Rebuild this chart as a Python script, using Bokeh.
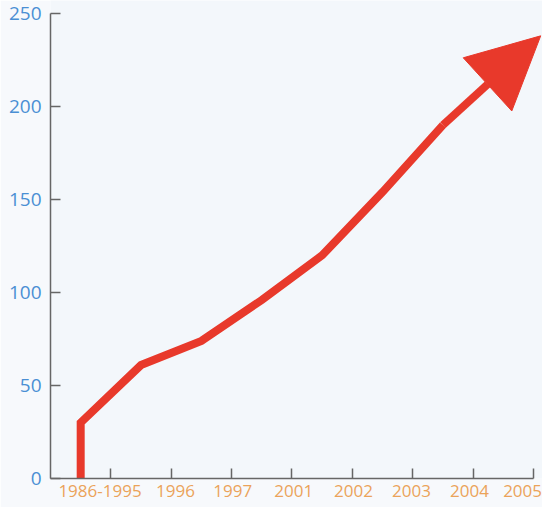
from bokeh.plotting import figure
from bokeh.models import Range1d, FixedTicker, Arrow, NormalHead
from bokeh.embed import file_html
from bokeh.resources import INLINE

# ---- data ----
categories = ["1986-1995", "1996", "1997", "2001", "2002", "2003", "2004", "2005"]
tick_positions = [1, 2, 3, 4, 5, 6, 7, 8]
label_positions = [0.82, 2.07, 3.02, 4.03, 5.02, 5.98, 6.94, 7.82]
line_x = [0.5, 0.5, 1.5, 2.5, 3.5, 4.5, 5.5, 6.5]
line_y = [0, 30, 61, 74, 96, 120, 154, 190]
arrow_tip_x = [8.12]
arrow_tip_y = [238]
y_ticks = [0, 50, 100, 150, 200, 250]

RED = "#e8392b"
ORANGE = "#eba35a"
BLUE = "#4a8fd4"
AXIS = "#666666"
FONT = "Open Sans"

p = figure(width=542, height=507, output_backend="svg", toolbar_location=None,
           x_range=Range1d(0, 8.15), y_range=Range1d(0, 257),
           min_border_left=50, min_border_right=0, min_border_top=0,
           min_border_bottom=29)

p.background_fill_color = "#f3f7fb"
p.border_fill_color = "#f7f9fc"
p.outline_line_color = None
p.grid.visible = False

# x axis: tick marks at category boundaries (minor), labels at label positions (major)
xa = p.xaxis[0]
xa.ticker = FixedTicker(ticks=label_positions, minor_ticks=tick_positions)
xa.major_label_overrides = {t: c for t, c in zip(label_positions, categories)}
xa.bounds = (0, 8)
xa.axis_line_color = AXIS
xa.axis_line_width = 1.5
xa.major_tick_line_color = None
xa.major_tick_in = 0
xa.major_tick_out = 0
xa.minor_tick_line_color = AXIS
xa.minor_tick_line_width = 1.5
xa.minor_tick_in = 10
xa.minor_tick_out = 0
xa.major_label_standoff = 6
xa.major_label_text_color = ORANGE
xa.major_label_text_font = FONT
xa.major_label_text_font_size = "17px"

# y axis
ya = p.yaxis[0]
ya.ticker = FixedTicker(ticks=y_ticks)
ya.bounds = (0, 250)
ya.axis_line_color = AXIS
ya.axis_line_width = 1.5
ya.major_tick_line_color = AXIS
ya.major_tick_line_width = 1.5
ya.major_tick_in = 10
ya.major_tick_out = 0
ya.minor_tick_line_color = None
ya.major_label_standoff = 9
ya.major_label_text_color = BLUE
ya.major_label_text_font = FONT
ya.major_label_text_font_size = "19px"

# red growth line
p.line(line_x, line_y, line_color=RED, line_width=8, line_join="miter")

# arrow to the tip
p.add_layout(Arrow(end=NormalHead(size=72, fill_color=RED, line_color=RED),
                   x_start=line_x[-1], y_start=line_y[-1],
                   x_end=arrow_tip_x[0], y_end=arrow_tip_y[0],
                   line_color=RED, line_width=8))

open("out.html", "w").write(file_html(p, INLINE))
